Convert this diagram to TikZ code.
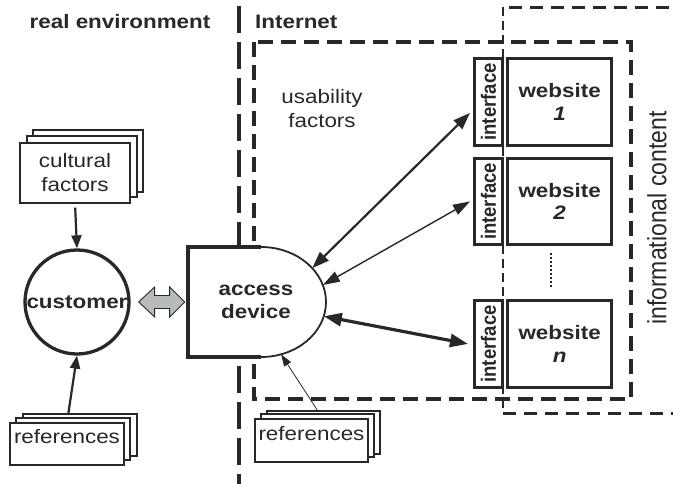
\documentclass[tikz,border=0pt]{standalone}
\usepackage{fontspec}
\setmainfont{Liberation Sans}
\newfontfamily\stf[FakeStretch=1.15]{Liberation Sans}
\usetikzlibrary{arrows.meta,calc}
\definecolor{ink}{HTML}{262829}
\definecolor{greyfill}{HTML}{B8BBBE}
\tikzset{
  lab/.style={font=\stf\fontsize{19.5}{24}\selectfont, text=ink, align=center, inner sep=0pt},
  blab/.style={font=\stf\bfseries\fontsize{19.5}{22.5}\selectfont, text=ink, align=center, inner sep=0pt},
  rlab/.style={font=\bfseries\fontsize{18.5}{20}\selectfont, text=ink, inner sep=0pt, rotate=90},
  sbox/.style={draw=ink, line width=1.1pt, fill=white, inner sep=0pt},
  sback/.style={draw=ink, line width=1.1pt, fill=white},
  wbox/.style={draw=ink, line width=2.8pt, fill=white, inner sep=0pt, anchor=north west},
  sepline/.style={draw=ink, line width=4.5pt, dash pattern=on 27pt off 9pt},
  udash/.style={draw=ink, line width=3.2pt, dash pattern=on 15pt off 8pt},
  idash/.style={draw=ink, line width=3pt, dash pattern=on 13pt off 8pt},
  conn/.style={draw=ink, color=ink},
}
\begin{document}
\begin{tikzpicture}[x=1pt,y=-1pt]
\path[use as bounding box] (0,0) rectangle (673,483);

% region borders
\draw[sepline] (239,-30) -- (239,490);
\draw[udash] (254,42) rectangle (631,399);
\draw[idash] (690,7) -- (503,7);
\draw[idash] (503,413) -- (690,413);
\draw[draw=ink, line width=2.8pt, dash pattern=on 9pt off 5pt] (503,7) -- (503,413);

% headers
\node[blab] (hreal) at (120,22) {real environment};
\node[blab, anchor=west] (hnet) at (255,22) {Internet};
\node[lab] (usab) at (322,109) {usability\\factors};
\node[font=\fontsize{23}{26}\selectfont, text=ink, inner sep=0pt, rotate=90] (info) at (657,218) {\scalebox{1}[1.15]{informational content}};

% websites
\node[wbox, minimum width=28pt, minimum height=87pt] (if1) at (473,57) {};
\node[wbox, minimum width=104pt, minimum height=87pt] (w1) at (506.25,57) {};
\node[blab] at (w1.center) {website\\\textit{1}};
\node[rlab] at (if1.center) {\scalebox{1}[1.12]{interface}};

\node[wbox, minimum width=28pt, minimum height=86pt] (if2) at (473,157) {};
\node[wbox, minimum width=104pt, minimum height=86pt] (w2) at (506.25,157) {};
\node[blab] at (w2.center) {website\\\textit{2}};
\node[rlab] at (if2.center) {\scalebox{1}[1.12]{interface}};

\node[wbox, minimum width=28pt, minimum height=87pt] (ifn) at (473,299) {};
\node[wbox, minimum width=104pt, minimum height=87pt] (wn) at (506.25,299) {};
\node[blab] at (wn.center) {website\\\textit{n}};
\node[rlab] at (ifn.center) {\scalebox{1}[1.12]{interface}};

\draw[draw=ink, line width=2.8pt, dash pattern=on 2pt off 2pt] (551,253) -- (551,287);

% cultural factors stack
\draw[sback] (33,130) rectangle (143,192);
\draw[sback] (27,136) rectangle (137,197);
\node[sbox, minimum width=110pt, minimum height=60pt, lab, draw=ink, fill=white] (cult) at (75,173) {cultural\\factors};

% references (left)
\draw[sback] (23,414) rectangle (137,456);
\draw[sback] (16,418) rectangle (130,460);
\node[sbox, minimum width=114pt, minimum height=42pt] (refL) at (67,444) {};
\node[lab] at ([yshift=7pt]refL.center) {references};

% references (middle)
\draw[sback] (267,411) rectangle (380,454);
\draw[sback] (261,414) rectangle (374,457);
\node[sbox, minimum width=113pt, minimum height=43pt] (refM) at (311.5,440.5) {};
\node[lab] at ([yshift=7pt]refM.center) {references};

% customer
\node[circle, draw=ink, line width=3.3pt, minimum size=104pt, inner sep=0pt, fill=white, blab] (cust) at (77,302) {customer};

% access device
\coordinate (adc) at (261,302);
\fill[white] (188,247) -- (261,247) arc[start angle=-90, end angle=90, x radius=65, y radius=55] -- (188,357) -- cycle;
\draw[ink, line width=3.3pt] (261,247) -- (188,247) -- (188,357) -- (261,357);
\draw[ink, line width=1.8pt] (261,247) arc[start angle=-90, end angle=90, x radius=65, y radius=55];
\node[blab] (ad) at (256,302) {access\\device};
\coordinate (adA) at ($(adc)+(-38:65 and 55)$);
\coordinate (adB) at ($(adc)+(-18:65 and 55)$);
\coordinate (adC) at ($(adc)+(15:65 and 55)$);
\coordinate (adD) at ($(adc)+(72:65 and 55)$);

% grey double arrow between customer and access device
\draw[draw=ink, line width=0.9pt, fill=greyfill]
  ($(cust.east)+(8,0)$) -- ++(16,-15) -- ++(0,8.5) -- ++(15,0) -- ++(0,-8.5) -- ++(15,15)
  -- ++(-15,15) -- ++(0,-8.5) -- ++(-15,0) -- ++(0,8.5) -- cycle;

% connectors
\draw[conn, line width=2.2pt, shorten <=4pt, -{Triangle[length=13pt,width=10pt]}] (cult.south) -- (cust.north);
\draw[conn, line width=2.2pt, shorten <=9pt, -{Triangle[length=13pt,width=10pt]}] (refL.north) -- (cust.south);
\draw[conn, line width=0.8pt, -{Triangle[length=12pt,width=8pt]}] ([shift={(6,-8)}]refM.north) -- (adD);
\draw[conn, line width=2.2pt, {Triangle[length=17pt,width=12pt]}-{Triangle[length=17pt,width=12pt]}] (adA) -- ([shift={(-3,11)}]if1.west);
\draw[conn, line width=1.4pt, {Triangle[length=17pt,width=11pt]}-{Triangle[length=17pt,width=11pt]}] (adB) -- ([shift={(-3,0)}]if2.west);
\draw[conn, line width=3.2pt, {Triangle[length=18pt,width=13pt]}-{Triangle[length=18pt,width=13pt]}] (adC) -- ([shift={(-5,0)}]ifn.west);
\end{tikzpicture}
\end{document}
